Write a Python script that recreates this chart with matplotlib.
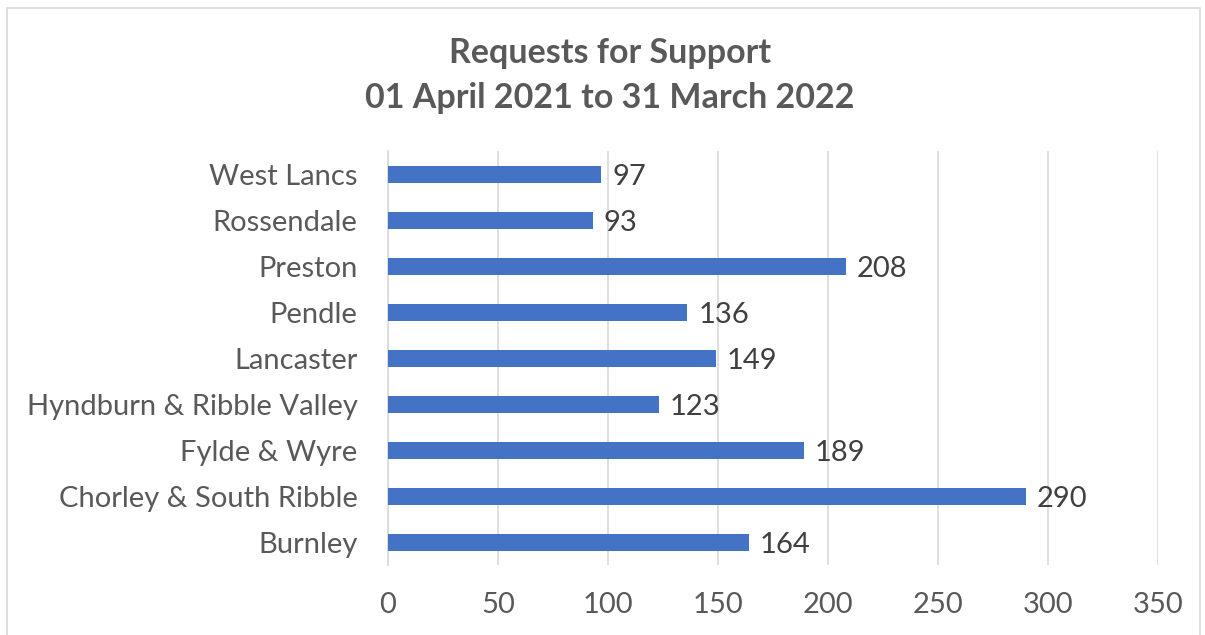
import matplotlib.pyplot as plt
from matplotlib.patches import Rectangle

# data, bottom to top
areas = ["Burnley", "Chorley & South Ribble", "Fylde & Wyre",
         "Hyndburn & Ribble Valley", "Lancaster", "Pendle",
         "Preston", "Rossendale", "West Lancs"]
requests = [164, 290, 189, 123, 149, 136, 208, 93, 97]
xticks = [0, 50, 100, 150, 200, 250, 300, 350]

plt.rcParams["font.family"] = ["Lato", "DejaVu Sans"]

fig = plt.figure(figsize=(12.05, 6.35), dpi=100)
ax = fig.add_axes([0.322, 0.110, 0.639, 0.652])

pos = list(range(len(areas)))
ax.barh(pos, requests, height=0.37, color="#4472C4", zorder=3)
for y, v in zip(pos, requests):
    ax.text(v + 5, y - 0.07, str(v), va="center", ha="left",
            fontsize=21, color="#404040")

ax.set_ylim(-0.5, len(areas) - 0.5)
ax.set_xlim(0, 350)
ax.set_xticks(xticks)
ax.set_yticks(pos)
ax.set_yticklabels(areas)
ax.tick_params(axis="both", length=0, labelsize=21, labelcolor="#595959")
ax.tick_params(axis="x", pad=19)
ax.tick_params(axis="y", pad=22)
ax.grid(axis="x", color="#D9D9D9", linewidth=1.2, zorder=0)
for s in ["top", "right", "bottom"]:
    ax.spines[s].set_visible(False)
ax.spines["left"].set_color("#D9D9D9")
ax.spines["left"].set_linewidth(1.2)

fig.text(0.506, 0.917, "Requests for Support", ha="center", va="center",
         fontsize=24.5, fontweight="bold", color="#595959")
fig.text(0.506, 0.846, "01 April 2021 to 31 March 2022", ha="center",
         va="center", fontsize=24.5, fontweight="bold", color="#595959")

fig.patches.append(Rectangle((0.006, -0.01), 0.99, 0.998, transform=fig.transFigure,
                             fill=False, edgecolor="#D9D9D9", linewidth=1.2))

fig.savefig("out.png", dpi=100)
